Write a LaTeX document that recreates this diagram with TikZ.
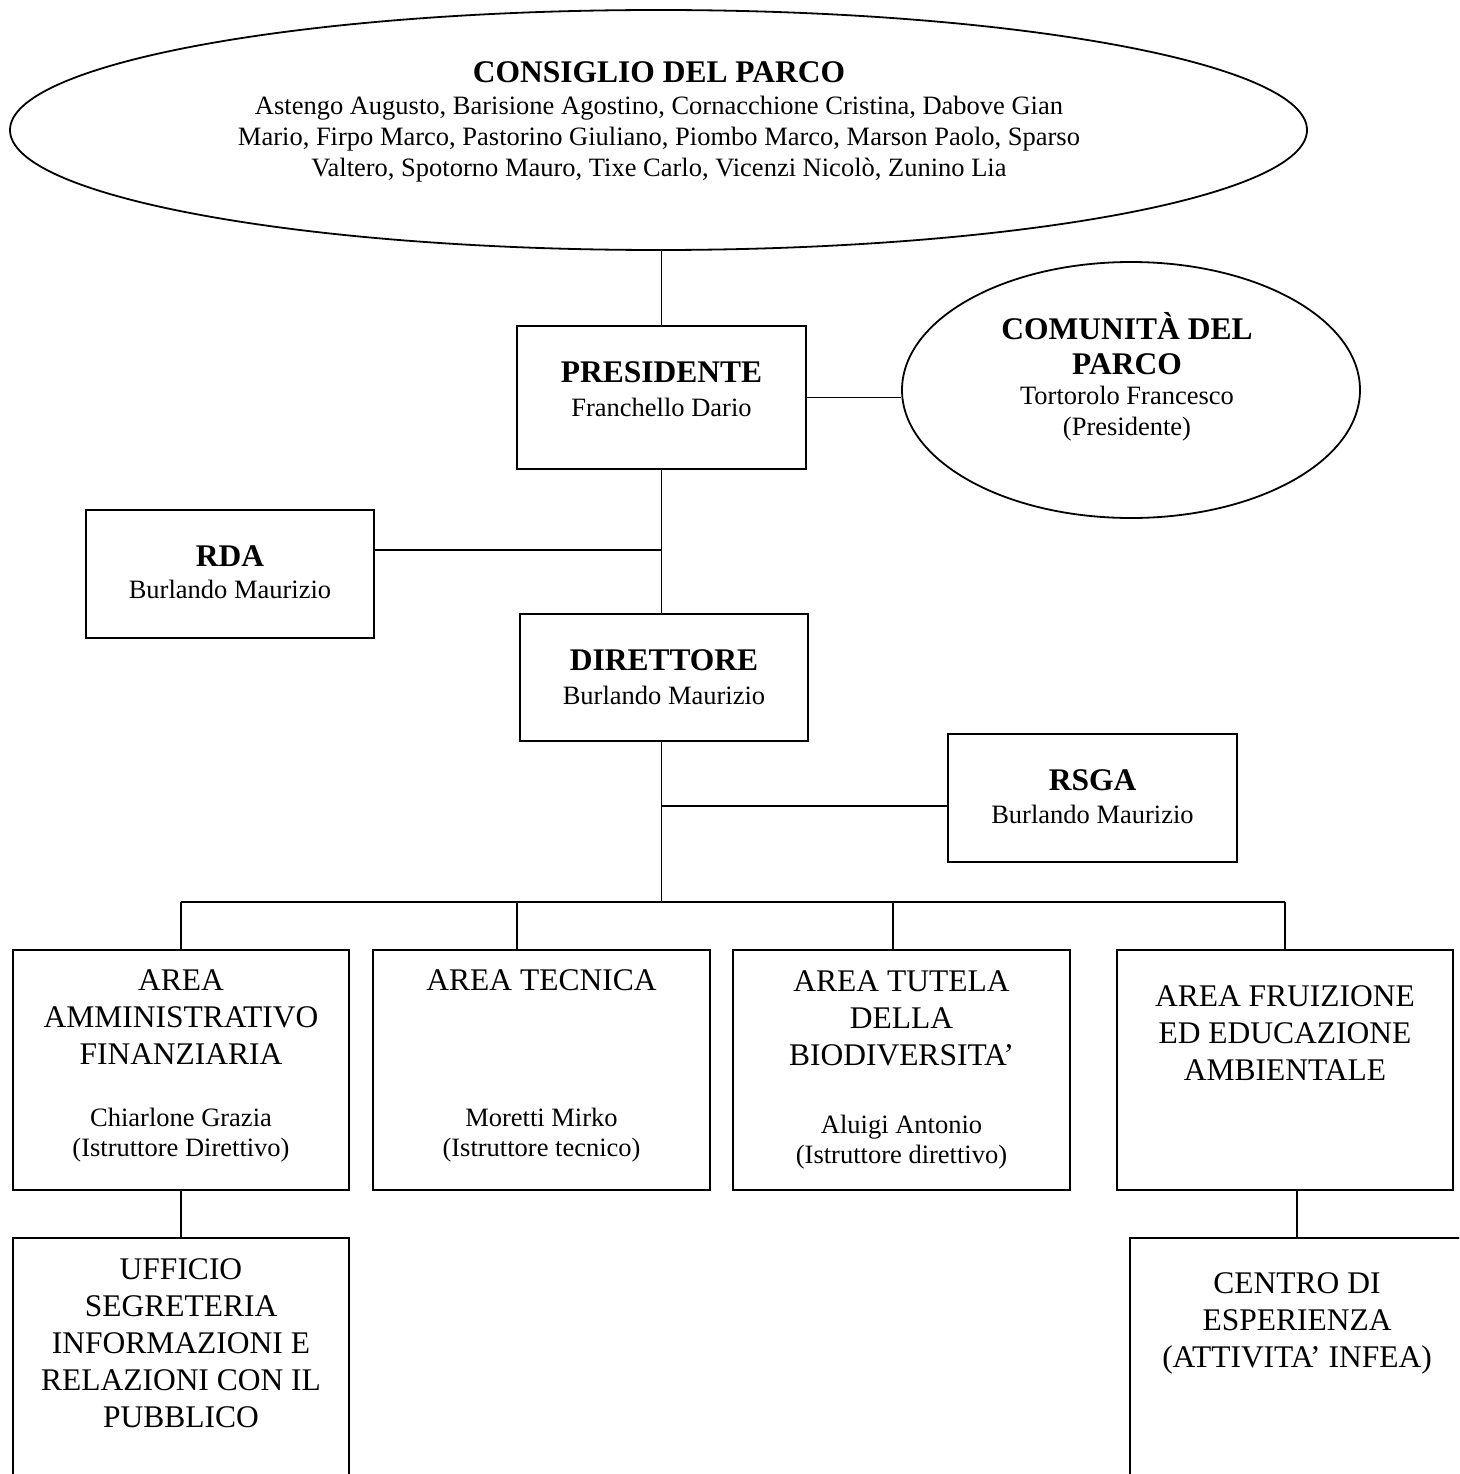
\documentclass[tikz,border=0pt]{standalone}
\usepackage{fontspec}
\setmainfont{Liberation Serif}
\usetikzlibrary{shapes,
	positioning,
	calc}
\tikzstyle{bx}=[draw, line width=1.8pt, inner sep=0]
\tikzstyle{el}=[draw, ellipse, line width=1.8pt, inner sep=0]
\tikzstyle{ti}=[font=\bfseries\fontsize{31.5}{35}\selectfont, align=center, inner sep=0]
\tikzstyle{nm}=[font=\fontsize{26.5}{31}\selectfont, align=center, inner sep=0]
\tikzstyle{ar}=[font=\fontsize{31.5}{37}\selectfont, align=center, inner sep=0]
\tikzstyle{ln}=[line width=1.5pt]

\begin{document}
\begin{tikzpicture}[x=1pt,y=-1pt]
                \useasboundingbox (0,0) rectangle (1459,1474);
                \clip (0,0) rectangle (1459,1474);

                \node[el, minimum width=1297, minimum height=240] (cons) at (658.5,130) {};
                \node[ti] (consT) at (659,72) {CONSIGLIO DEL PARCO};
                \node[nm] (consN) at (659,139) {Astengo Augusto, Barisione Agostino, Cornacchione Cristina, Dabove Gian\\Mario, Firpo Marco, Pastorino Giuliano, Piombo Marco, Marson Paolo, Sparso\\Valtero, Spotorno Mauro, Tixe Carlo, Vicenzi Nicolò, Zunino Lia};

                \node[el, minimum width=458, minimum height=256] (com) at (1131,390) {};
                \node[ti] (comT) at (1127,344) {COMUNITÀ DEL\\PARCO};
                \node[nm, font=\fontsize{26.5}{31}\selectfont] (comN) at (1127,414) {Tortorolo Francesco\\(Presidente)};

                \node[bx, minimum width=289, minimum height=143] (pres) at (661.5,397.5) {};
                \node[ti] (presT) at (661.5,372) {PRESIDENTE};
                \node[nm] (presN) at (661.5,407) {Franchello Dario};

                \node[bx, minimum width=288, minimum height=128] (rda) at (230,574) {};
                \node[ti] (rdaT) at (230,556) {RDA};
                \node[nm] (rdaN) at (230,589) {Burlando Maurizio};

                \node[bx, minimum width=288, minimum height=127] (dir) at (664,677.5) {};
                \node[ti] (dirT) at (664,660) {DIRETTORE};
                \node[nm] (dirN) at (664,695) {Burlando Maurizio};

                \node[bx, minimum width=289, minimum height=128] (rsga) at (1092.5,798) {};
                \node[ti] (rsgaT) at (1092.5,780) {RSGA};
                \node[nm] (rsgaN) at (1092.5,814) {Burlando Maurizio};

                \node[bx, minimum width=336, minimum height=240] (a1) at (181,1070) {};
                \node[ar] (a1T) at (181,1017) {AREA\\AMMINISTRATIVO\\FINANZIARIA};
                \node[nm, font=\fontsize{26.5}{30}\selectfont] (a1N) at (181,1135) {Chiarlone Grazia\\(Istruttore Direttivo)};

                \node[bx, minimum width=337, minimum height=240] (a2) at (541.5,1070) {};
                \node[ar] (a2T) at (541.5,980) {AREA TECNICA};
                \node[nm, font=\fontsize{26.5}{30}\selectfont] (a2N) at (541.5,1135) {Moretti Mirko\\(Istruttore tecnico)};

                \node[bx, minimum width=337, minimum height=240] (a3) at (901.5,1070) {};
                \node[ar] (a3T) at (901.5,1018) {AREA TUTELA\\DELLA\\BIODIVERSITA’};
                \node[nm, font=\fontsize{26.5}{30}\selectfont] (a3N) at (901.5,1142) {Aluigi Antonio\\(Istruttore direttivo)};

                \node[bx, minimum width=336, minimum height=240] (a4) at (1285,1070) {};
                \node[ar] (a4T) at (1285,1033) {AREA FRUIZIONE\\ED EDUCAZIONE\\AMBIENTALE};

                \node[bx, minimum width=336, minimum height=300] (uff) at (181,1388) {};
                \node[ar] (uffT) at (181,1343) {UFFICIO\\SEGRETERIA\\INFORMAZIONI E\\RELAZIONI CON IL\\PUBBLICO};

                \node[bx, minimum width=334, minimum height=300] (cen) at (1297,1388) {};
                \node[ar] (cenT) at (1297,1323) {CENTRO DI\\ESPERIENZA\\(ATTIVITA’ INFEA)};

                \coordinate (jr) at (661.5,550);
                \coordinate (js) at (661.5,806);
                \coordinate (jb) at (661.5,902);
                \coordinate (d2) at (517,902);
                \coordinate (d3) at (893,902);

                \draw[ln] (pres.north) -- (pres.north |- cons.south);
                \draw[ln] (pres.east) -- (pres.east -| com.west);
                \draw[ln] (pres.south) -- (pres.south |- dir.north);
                \draw[ln] (rda.east |- jr) -- (jr);
                \draw[ln] (jb |- dir.south) -- (jb);
                \draw[ln] (js) -- (js -| rsga.west);
                \draw[ln] (a1.north |- jb) -- (a4.north |- jb);
                \draw[ln] (a1.north) -- (a1.north |- jb);
                \draw[ln] (d2) -- (d2 |- a2.north);
                \draw[ln] (d3) -- (d3 |- a3.north);
                \draw[ln] (a4.north) -- (a4.north |- jb);
                \draw[ln] (a1.south) -- (uff.north);
                \draw[ln] (cen.north) -- (cen.north |- a4.south);
\end{tikzpicture}
\end{document}
